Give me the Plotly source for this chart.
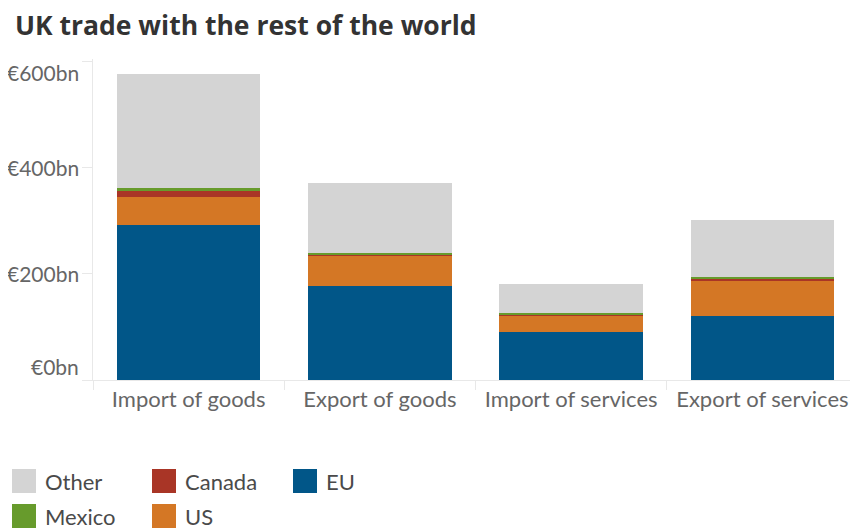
import plotly.graph_objects as go

categories = ["Import of goods", "Export of goods", "Import of services", "Export of services"]
eu = [292, 177, 91, 120]
us = [53, 57, 30, 67]
canada = [13, 3, 2.5, 4]
mexico = [3, 2, 2, 3]
other = [216, 133, 56, 108]

series_names = ["EU", "US", "Canada", "Mexico", "Other"]
series_values = [eu, us, canada, mexico, other]
series_colors = ["#015688", "#D47725", "#A93526", "#679B2C", "#D4D4D4"]

y_tickvals = [0, 200, 400, 600]
y_ticktext = ["€0bn", "€200bn", "€400bn", "€600bn"]

# page body has an 8px margin: figure origin sits at (8, 8) in the window
OFF = 8
W, H = 858 - OFF, 528 - OFF
ML, MR, MT, MB = 93 - OFF, 0, 59 - OFF, 528 - 380
FONT = "Lato, 'Open Sans', sans-serif"

fig = go.Figure()
for name, vals, col in zip(series_names, series_values, series_colors):
    fig.add_trace(go.Bar(
        x=categories, y=vals, name=name,
        marker=dict(color=col, line=dict(width=0)),
        showlegend=False,
    ))

pw = W - ML - MR
ph = H - MT - MB
def px2paper(xp, yp):
    xp -= OFF
    yp -= OFF
    return (xp - ML) / pw, (H - MB - yp) / ph

shapes = []
annotations = []

# y tick labels, flush with the axis ends (first/last pulled inside the axis)
label_shift = {0: 14, 600: -11}
lab_x, _ = px2paper(81, 0)
for v, t in zip(y_tickvals, y_ticktext):
    annotations.append(dict(text=t, xref="paper", yref="y", x=lab_x, y=v,
                            xanchor="right", yanchor="middle", showarrow=False,
                            yshift=label_shift.get(v, 0),
                            font=dict(family=FONT, size=21, color="#666666")))

# manual legend (column-major order, as in the reference); window pixel positions
legend_layout = [
    ("Other", 12, 481), ("Canada", 152, 481), ("EU", 293, 481),
    ("Mexico", 12, 516), ("US", 152, 516),
]
color_of = dict(zip(series_names, series_colors))
for name, lx, ly in legend_layout:
    x0, y0 = px2paper(lx, ly - 12)
    x1, y1 = px2paper(lx + 24, ly + 12)
    shapes.append(dict(type="rect", xref="paper", yref="paper",
                       x0=x0, x1=x1, y0=y1, y1=y0,
                       fillcolor=color_of[name], line=dict(width=0)))
    tx, ty = px2paper(lx + 31, ly)
    annotations.append(dict(text=name, xref="paper", yref="paper", x=tx, y=ty,
                            xanchor="left", yanchor="middle", showarrow=False,
                            font=dict(family=FONT, size=22, color="#4a4a4a")))

fig.update_layout(
    width=W, height=H,
    margin=dict(l=ML, r=MR, t=MT, b=MB),
    barmode="stack",
    bargap=0.25,
    paper_bgcolor="white",
    plot_bgcolor="white",
    font=dict(family=FONT, color="#666666"),
    title=dict(text="<b>UK trade with the rest of the world</b>",
               x=(15 - OFF) / W, xref="container", xanchor="left",
               y=1 - (26 - OFF) / H, yref="container", yanchor="middle",
               font=dict(family="'Open Sans', sans-serif", size=26.5, color="#333333")),
    xaxis=dict(type="category", showline=True, linecolor="#E8E8E8", linewidth=1,
               ticks="outside", tickson="boundaries", ticklen=9, tickcolor="#E8E8E8",
               showgrid=False, tickfont=dict(size=22, color="#666666")),
    yaxis=dict(range=[0, 605], showline=True, linecolor="#E8E8E8", linewidth=1,
               ticks="outside", ticklen=10, tickcolor="#E8E8E8",
               tickvals=y_tickvals, showticklabels=False,
               showgrid=False, zeroline=False),
    shapes=shapes,
    annotations=annotations,
)

fig.write_html("out.html")
